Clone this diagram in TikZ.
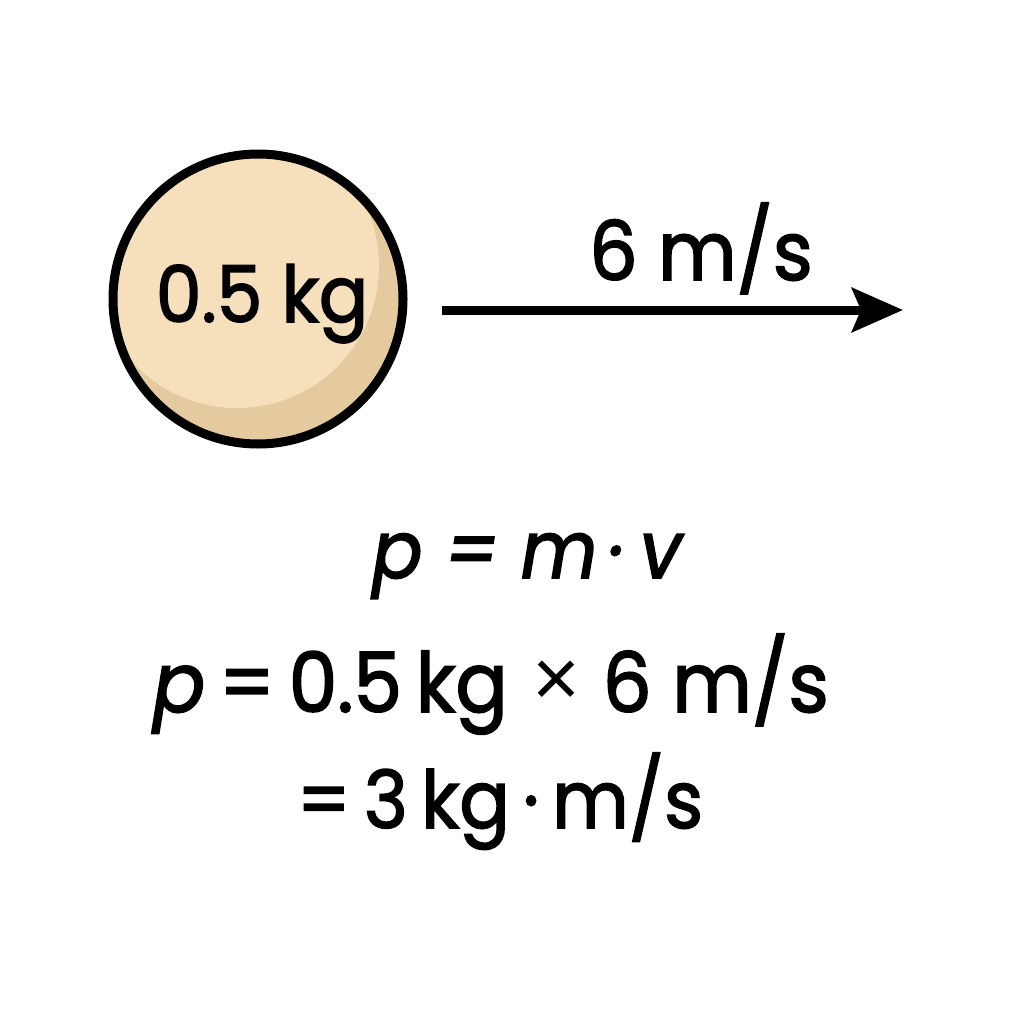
\documentclass[tikz,border=0pt]{standalone}
\usepackage{fontspec}
\setmainfont{Poppins}[FakeBold=2, FakeStretch=0.93]
\newfontfamily\crossfont{Liberation Sans}
\usetikzlibrary{arrows.meta}
\definecolor{ballfill}{RGB}{246,223,187}
\definecolor{ballshade}{RGB}{229,202,160}
\tikzset{
  bigtext/.style={anchor=base, inner sep=0pt, font=\fontsize{80}{96}\selectfont},
  arrowline/.style={line width=9pt, -{Stealth[length=51pt,width=44pt,inset=9pt]}}
}
\newcommand{\thincross}{{\crossfont\fontsize{82}{82}\selectfont\raisebox{6pt}{×}}}
\begin{document}
\begin{tikzpicture}[x=1pt,y=-1pt]
\useasboundingbox (0,0) rectangle (1024,1024);
\fill[white] (0,0) rectangle (1024,1024);
\begin{scope}
  \clip (258,299) circle (145);
  \fill[ballshade] (258,299) circle (150);
  \fill[ballfill] (237,266) circle (142);
\end{scope}
\node[circle, draw, line width=9pt, minimum size=290pt, inner sep=0pt] (ball) at (258,299) {};
\node[bigtext, font=\fontsize{78}{94}\selectfont] (masslabel) at (262,322) {0.5 kg};
\coordinate (arrowstart) at (442,310);
\coordinate (arrowend) at (903,310);
\draw[arrowline] (arrowstart) -- (arrowend);
\node[bigtext, font=\fontsize{82}{98}\selectfont] (vlabel) at (701,280) {6 m/s};
\node[bigtext] (eqone) at (527,578) {\itshape p\ = m\,·\,v};
\node[bigtext, font=\fontsize{83}{98}\selectfont] (eqtwo) at (491,712) {{\itshape p}\,=\,0.5\,kg\hspace{25pt}\thincross\hspace{22pt}6 m/s};
\node[bigtext] (eqthree) at (500,828) {=\,3\,kg\,·\,m/s};
\end{tikzpicture}
\end{document}
